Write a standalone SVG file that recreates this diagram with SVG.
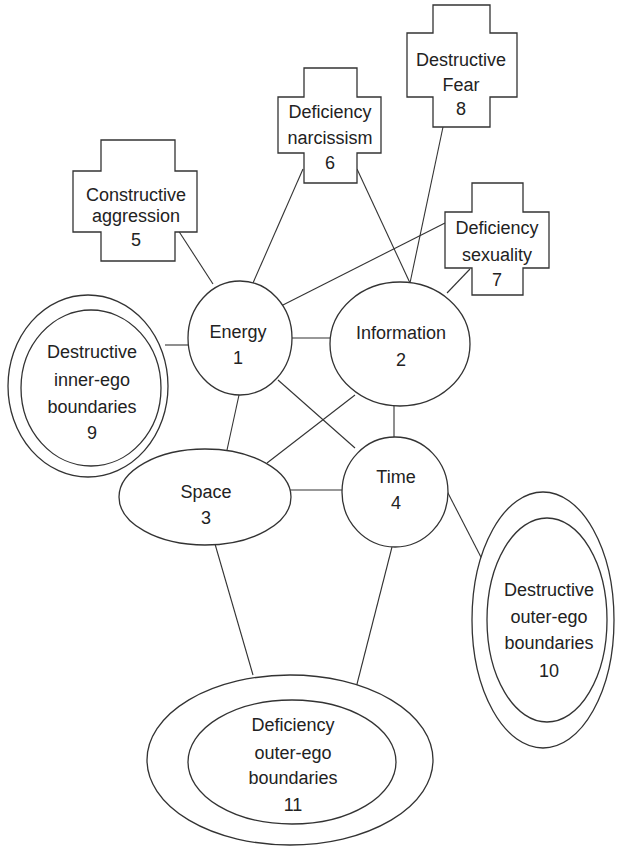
<svg xmlns="http://www.w3.org/2000/svg" width="617" height="847" viewBox="0 0 617 847">
<style>
.s{fill:#fff;stroke:#333;stroke-width:1.3}
.c line{stroke:#333;stroke-width:1.1}
text{font-family:"Liberation Sans",Arial,sans-serif;font-size:18px;fill:#222;text-anchor:middle;dominant-baseline:central}
</style>
<rect width="617" height="847" fill="#fff"/>
<g class="c" id="connectors">
<line x1="178" y1="230" x2="213" y2="284"/>
<line x1="303" y1="169" x2="253" y2="283"/>
<line x1="357" y1="169" x2="410" y2="283"/>
<line x1="443" y1="127" x2="410" y2="283"/>
<line x1="445" y1="223" x2="279" y2="307"/>
<line x1="470" y1="269" x2="447" y2="293"/>
<line x1="165" y1="345" x2="188" y2="345"/>
<line x1="292" y1="338" x2="330" y2="338"/>
<line x1="394" y1="406" x2="394" y2="437"/>
<line x1="239" y1="395" x2="227" y2="450"/>
<line x1="278" y1="380" x2="355" y2="448"/>
<line x1="355" y1="395" x2="267" y2="463"/>
<line x1="290" y1="490" x2="342" y2="490"/>
<line x1="432" y1="462" x2="484" y2="563"/>
<line x1="215" y1="544" x2="253" y2="675"/>
<line x1="392" y1="547" x2="356" y2="688"/>
</g>
<g id="n5"><polygon class="s" points="101,140 175,140 175,171 197,171 197,232 175,232 175,261 101,261 101,232 73,232 73,171 101,171"/><text x="136" y="195">Constructive</text><text x="136" y="216">aggression</text><text x="136" y="240">5</text></g>
<g id="n6"><polygon class="s" points="304,68 357,68 357,97 381,97 381,153 357,153 357,183 304,183 304,153 278,153 278,97 304,97"/><text x="330" y="112">Deficiency</text><text x="330" y="138">narcissism</text><text x="330" y="163">6</text></g>
<g id="n8"><polygon class="s" points="433,5 490,5 490,33 517,33 517,97 490,97 490,127 433,127 433,97 407,97 407,33 433,33"/><text x="461" y="60">Destructive</text><text x="461" y="85">Fear</text><text x="461" y="109">8</text></g>
<g id="n7"><polygon class="s" points="472,183 523,183 523,212 549,212 549,268 523,268 523,295 472,295 472,268 445,268 445,212 472,212"/><text x="497" y="228">Deficiency</text><text x="497" y="255">sexuality</text><text x="497" y="280">7</text></g>
<g id="n1"><ellipse class="s" cx="240" cy="338" rx="52" ry="57"/><text x="238" y="332">Energy</text><text x="238" y="358">1</text></g>
<g id="n2"><ellipse class="s" cx="400" cy="344" rx="70" ry="62"/><text x="401" y="333">Information</text><text x="401" y="360">2</text></g>
<g id="n4"><ellipse class="s" cx="395" cy="492" rx="53" ry="55"/><text x="396" y="477">Time</text><text x="396" y="503">4</text></g>
<g id="n3"><ellipse class="s" cx="205" cy="497" rx="86" ry="48"/><text x="206" y="492">Space</text><text x="206" y="518">3</text></g>
<g id="n9"><ellipse class="s" cx="88" cy="386" rx="80" ry="91"/><ellipse class="s" cx="91" cy="388" rx="70" ry="78"/><text x="92" y="352">Destructive</text><text x="92" y="380">inner-ego</text><text x="92" y="407">boundaries</text><text x="92" y="433">9</text></g>
<g id="n10"><ellipse class="s" cx="543" cy="620" rx="71" ry="128"/><ellipse class="s" cx="547" cy="620" rx="60" ry="102"/><text x="549" y="590">Destructive</text><text x="549" y="617">outer-ego</text><text x="549" y="643">boundaries</text><text x="549" y="671">10</text></g>
<g id="n11"><ellipse class="s" cx="290" cy="760" rx="143" ry="85"/><ellipse class="s" cx="292" cy="762" rx="104" ry="62"/><text x="293" y="725">Deficiency</text><text x="293" y="753">outer-ego</text><text x="293" y="778">boundaries</text><text x="293" y="805">11</text></g>
</svg>
